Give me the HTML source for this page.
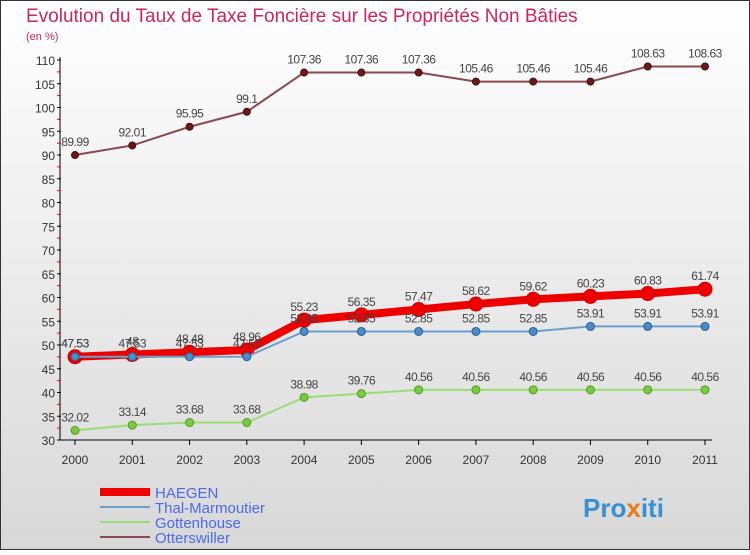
<!DOCTYPE html>
<html><head><meta charset="utf-8"><style>
body{margin:0;width:750px;height:550px;overflow:hidden;font-family:"Liberation Sans",sans-serif}
</style></head><body>
<svg width="750" height="550" xmlns="http://www.w3.org/2000/svg">
<defs><linearGradient id="bg" x1="0" y1="0" x2="0" y2="1"><stop offset="0" stop-color="#ffffff"/><stop offset="1" stop-color="#d8d8d8"/></linearGradient></defs>
<rect x="0.5" y="0.5" width="749" height="549" fill="url(#bg)" stroke="#333"/>
<text x="26" y="22" font-size="19" fill="#c8285a">Evolution du Taux de Taxe Foncière sur les Propriétés Non Bâties</text>
<text x="26" y="40" font-size="11" fill="#c8285a">(en %)</text>
<g id="axes"></g><g id="series"></g><g id="legend"></g>
<text x="583" y="517" font-size="26" font-weight="bold" fill="#3a8fd0">Pro<tspan fill="#e87a1a">x</tspan>iti</text>
</svg>
<script>
const years=[2000,2001,2002,2003,2004,2005,2006,2007,2008,2009,2010,2011];
const yTicks=[30,35,40,45,50,55,60,65,70,75,80,85,90,95,100,105,110];
const otters=[89.99,92.01,95.95,99.1,107.36,107.36,107.36,105.46,105.46,105.46,108.63,108.63];
const gotten=[32.02,33.14,33.68,33.68,38.98,39.76,40.56,40.56,40.56,40.56,40.56,40.56];
const thal=[47.53,47.53,47.53,47.53,52.85,52.85,52.85,52.85,52.85,53.91,53.91,53.91];
const haegen=[47.53,48,48.48,48.96,55.23,56.35,57.47,58.62,59.62,60.23,60.83,61.74];
const NS="http://www.w3.org/2000/svg";
const X=i=>75+i*(630/11), Y=v=>440-(v-30)*4.75;
function mk(t,a,p){const e=document.createElementNS(NS,t);for(const k in a)e.setAttribute(k,a[k]);p.appendChild(e);return e;}
const ax=document.getElementById('axes');
let l=mk('line',{x1:60,y1:57,x2:60,y2:440,stroke:'#000'},ax);


l=mk('line',{x1:60,y1:440,x2:712,y2:440,stroke:'#000'},ax);


yTicks.forEach(v=>{
 mk('line',{x1:57,y1:Y(v),x2:61,y2:Y(v),stroke:'#000'},ax);
 if(v<110) mk('line',{x1:57,y1:Y(v+2.5),x2:61,y2:Y(v+2.5),stroke:'#e00'},ax);
 const t=mk('text',{x:55,y:Y(v)+5,'font-size':12,'text-anchor':'end',fill:'#333'},ax);t.textContent=v;
 
 
});
years.forEach((yr,i)=>{
 mk('line',{x1:X(i),y1:440,x2:X(i),y2:445,stroke:'#000'},ax);
 const t=mk('text',{x:X(i),y:464,'font-size':12,'text-anchor':'middle',fill:'#333'},ax);t.textContent=yr;
 
 
});
const sg=document.getElementById('series');
function series(vals,color,w,r,name,dot,stroke){
 const g=mk('g',{},sg);
 
 
 mk('polyline',{points:vals.map((v,i)=>X(i)+','+Y(v)).join(' '),fill:'none',stroke:color,'stroke-width':w},g);
 vals.forEach((v,i)=>{
  const c=mk('circle',{cx:X(i),cy:Y(v),r:r,fill:dot,stroke:stroke,'stroke-width':1},g);
  
  
  const t=mk('text',{x:X(i),y:Y(v)-9,'font-size':12,'text-anchor':'middle',fill:'#444','letter-spacing':'-0.5'},g);
  t.textContent=String(v);
  
  
 });
}
series(otters,'#8a4a4a',2,3.5,'otterswiller','#6a1a1a','#4a0a0a');
series(gotten,'#99dd77',2,4,'gottenhouse','#77cc44','#559922');
series(haegen,'#ee0000',8,7,'haegen','#ee0000','#cc0000');
series(thal,'#6aa0cc',2,4,'thal-marmoutier','#4a8ccc','#2a5c8c');
const lg=document.getElementById('legend');
[['HAEGEN','#ee0000',8],['Thal-Marmoutier','#6aa0cc',2],['Gottenhouse','#99dd77',2],['Otterswiller','#8a4a4a',2]].forEach((d,i)=>{
 const y=492+i*15;
 const g=mk('g',{},lg);
 
 
 mk('line',{x1:100,y1:y,x2:150,y2:y,stroke:d[1],'stroke-width':d[2]},g);
 const t=mk('text',{x:155,y:y+6,'font-size':15,fill:'#4a6ae8'},g);t.textContent=d[0];
});
</script>
</body></html>
